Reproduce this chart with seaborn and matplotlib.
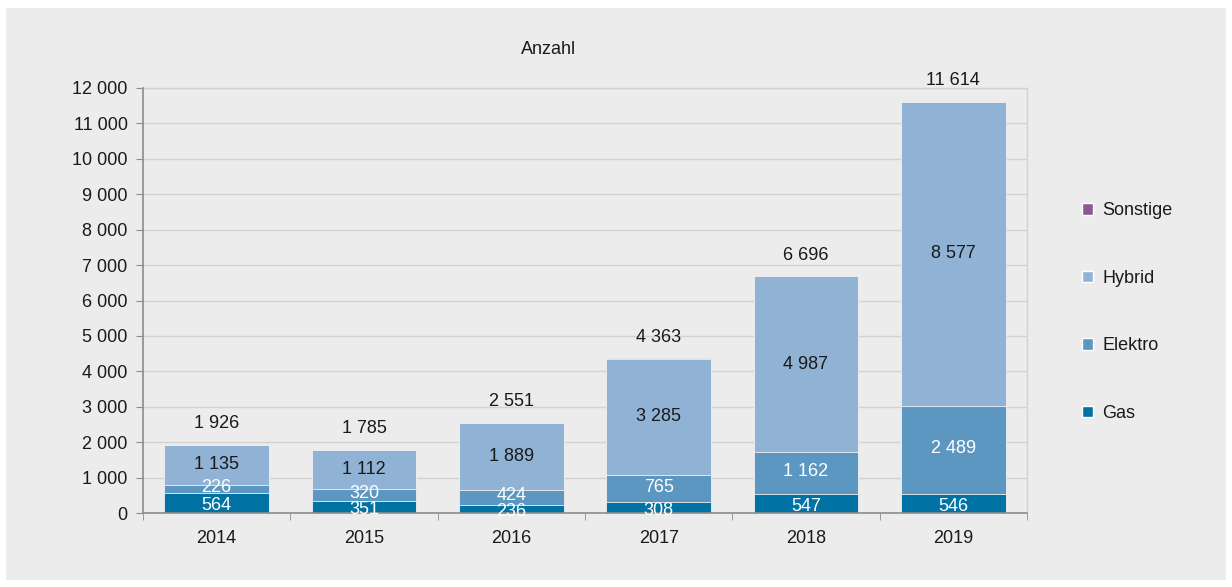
import matplotlib
matplotlib.use("Agg")

import numpy as np
import pandas as pd
import matplotlib.pyplot as plt
import seaborn as sns
from matplotlib.patches import Rectangle, Patch
from matplotlib.ticker import FuncFormatter, FixedLocator

years = ["2014", "2015", "2016", "2017", "2018", "2019"]
gas = [564, 351, 236, 308, 547, 546]
elektro = [226, 320, 424, 765, 1162, 2489]
hybrid = [1135, 1112, 1889, 3285, 4987, 8577]
sonstige = [1, 2, 2, 5, 0, 2]
totals = [1926, 1785, 2551, 4363, 6696, 11614]

c_gas = "#0072a3"
c_el = "#5b97c0"
c_hy = "#8fb2d5"
c_so = "#8a5a8e"
bg = "#ececec"


def fmt(v):
    return f"{int(v):,}".replace(",", " ")


df = pd.DataFrame({"Jahr": years, "Gas": gas, "Elektro": elektro,
                   "Hybrid": hybrid, "Sonstige": sonstige})
df["c_gas"] = df["Gas"]
df["c_el"] = df["c_gas"] + df["Elektro"]
df["c_hy"] = df["c_el"] + df["Hybrid"]
df["c_so"] = df["c_hy"] + df["Sonstige"]

sns.set_style("white")
plt.rcParams["font.family"] = ["Liberation Sans", "DejaVu Sans"]
fs = 13

fig = plt.figure(figsize=(12.32, 5.87), dpi=100)
fig.patch.set_facecolor("white")
fig.patches.append(Rectangle((6 / 1232, 7 / 587), 1220 / 1232, 572 / 587,
                             transform=fig.transFigure, facecolor=bg,
                             edgecolor="none", zorder=-10))

ax = fig.add_axes([143 / 1232, 74 / 587, 884 / 1232, 425 / 587])
ax.set_facecolor(bg)
ax.set_zorder(1)

# cumulative bars drawn from tallest to shortest -> stacked look
for col, color in [("c_so", c_so), ("c_hy", c_hy), ("c_el", c_el), ("c_gas", c_gas)]:
    sns.barplot(data=df, x="Jahr", y=col, color=color, width=0.71,
                saturation=1, ax=ax, edgecolor="#f2f2f2", linewidth=0.6,
                zorder=3)

ax.set_ylim(0, 12000)
ax.set_xlim(-0.5, 5.5)
ax.set_yticks(np.arange(0, 12001, 1000))
ax.yaxis.set_major_formatter(FuncFormatter(lambda v, p: fmt(v)))
ax.yaxis.grid(True, color="#d2d2d2", linewidth=1, zorder=0)
ax.set_axisbelow(True)
ax.set_xlabel("")
ax.set_ylabel("")

for s in ["top", "right"]:
    ax.spines[s].set_color("#d2d2d2")
    ax.spines[s].set_linewidth(1)
for s in ["left", "bottom"]:
    ax.spines[s].set_color("#8c8c8c")
    ax.spines[s].set_linewidth(1.2)
    ax.spines[s].set_zorder(4)

ax.tick_params(axis="y", length=5, color="#8c8c8c", labelsize=fs,
               labelcolor="#1a1a1a", left=True, pad=6)
ax.tick_params(axis="x", which="major", length=0, labelsize=fs,
               labelcolor="#1a1a1a", pad=12)
ax.xaxis.set_minor_locator(FixedLocator(np.arange(-0.5, 6.0, 1.0)))
ax.tick_params(axis="x", which="minor", length=5, color="#8c8c8c", bottom=True)

for i in range(len(years)):
    g, e, h = gas[i], elektro[i], hybrid[i]
    ax.annotate(fmt(g), (i, g / 2), xytext=(0, -2), textcoords="offset points",
                ha="center", va="center", color="white", fontsize=fs, zorder=5)
    ax.annotate(fmt(e), (i, g + e / 2), xytext=(0, 1), textcoords="offset points",
                ha="center", va="center", color="white", fontsize=fs, zorder=5)
    ax.text(i, g + e + h / 2, fmt(h), ha="center", va="center",
            color="#1a1a1a", fontsize=fs, zorder=5)
    ax.annotate(fmt(totals[i]), (i, totals[i]), xytext=(0, 15),
                textcoords="offset points", ha="center", va="center",
                color="#1a1a1a", fontsize=fs, zorder=5)

fig.text(549 / 1232, 1 - 50 / 587, "Anzahl", ha="center", va="center",
         fontsize=fs, color="#1a1a1a")

handles = [Patch(facecolor=c_so, label="Sonstige"),
           Patch(facecolor=c_hy, label="Hybrid"),
           Patch(facecolor=c_el, label="Elektro"),
           Patch(facecolor=c_gas, label="Gas")]
fig.legend(handles=handles, loc="center left",
           bbox_to_anchor=(1066 / 1232, 1 - 312 / 587), frameon=False,
           fontsize=fs, handlelength=0.6, handleheight=0.6,
           handletextpad=0.5, labelspacing=2.8, labelcolor="#1a1a1a")

fig.savefig("out.png", dpi=100, facecolor="white")
